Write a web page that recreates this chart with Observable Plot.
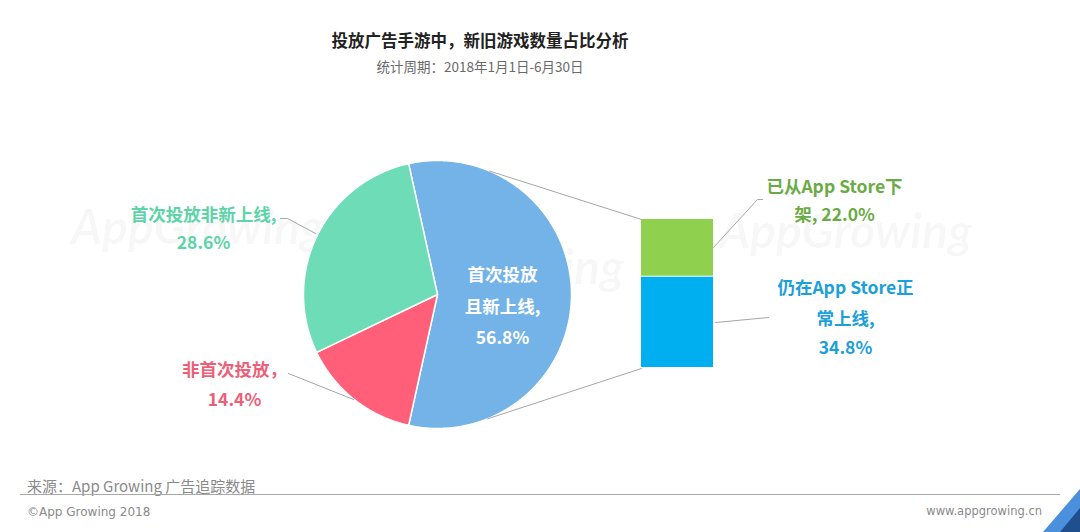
<!DOCTYPE html>
<html>
<head>
<meta charset="utf-8">
<script src="https://cdn.jsdelivr.net/npm/d3@7"></script>
<script src="https://cdn.jsdelivr.net/npm/@observablehq/plot@0.6"></script>
<style>
  html, body { margin: 0; padding: 0; background: #fff; }
  #wrap { position: relative; width: 1080px; height: 532px; overflow: hidden; font-family: "Noto Sans CJK SC", "Noto Sans", sans-serif; }
  .title { position: absolute; left: 0; top: 28px; width: 960px; text-align: center; font-size: 16.5px; font-weight: bold; color: #222; line-height: 24px; }
  .sub { position: absolute; left: 0; top: 56px; width: 960px; text-align: center; font-size: 13.5px; color: #6a6a6a; line-height: 20px; }
  #chart { position: absolute; left: 0; top: 88px; }
  .source { position: absolute; left: 27px; top: 475px; font-size: 15px; color: #8a8a8a; line-height: 22px; }
  .rule { position: absolute; left: 20px; top: 494px; width: 1040px; height: 0; border-top: 1.5px solid #a8a8a8; }
  .copy { position: absolute; left: 27px; top: 503px; font-size: 12px; color: #8a8a8a; line-height: 18px; font-family: "DejaVu Sans", sans-serif; }
  .site { position: absolute; right: 38px; top: 502px; font-size: 11.5px; color: #8a8a8a; line-height: 18px; font-family: "DejaVu Sans", sans-serif; }
  #corner { position: absolute; left: 0; top: 0; pointer-events: none; }
</style>
</head>
<body>
<div id="wrap">
  <div class="title">投放广告手游中，新旧游戏数量占比分析</div>
  <div class="sub">统计周期：2018年1月1日-6月30日</div>
  <div id="chart"></div>
  <div class="source">来源：App Growing 广告追踪数据</div>
  <div class="rule"></div>
  <div class="copy">©App Growing 2018</div>
  <div class="site">www.appgrowing.cn</div>
  <svg id="corner" width="1080" height="532">
    <polygon points="1043,532 1080,532 1080,489" fill="#4a90dc"></polygon>
    <polygon points="1060,532 1080,532 1080,508" fill="#1f4f8c"></polygon>
  </svg>
</div>
<script>
// ---------- data ----------
const pieCategories = ["首次投放且新上线", "非首次投放", "首次投放非新上线"];
const pieValues = [56.8, 14.4, 28.6];
const pieColors = ["#74b3e8", "#ff5f78", "#6ddcb7"];

const barCategories = ["已从App Store下架", "仍在App Store正常上线"];
const barValues = [22.0, 34.8];
const barColors = ["#8fd14f", "#00aff0"];

const pieLabelLines = [
  ["首次投放", "且新上线,", "56.8%"],
  ["非首次投放，", "14.4%"],
  ["首次投放非新上线,", "28.6%"]
];
const barLabelLines = [
  ["已从App Store下", "架, 22.0%"],
  ["仍在App Store正", "常上线,", "34.8%"]
];
const pieLabelColors = ["#ffffff", "#ec5f78", "#5cd4a7"];
const barLabelColors = ["#6bab45", "#1ba0d8"];

// ---------- layout (page pixels) ----------
const L = {
  cx: 437, cy: 294, r: 134,
  barX0: 641, barX1: 713, barTop: 219, barBottom: 368,
  pieLabelPos: [
    {x: 502, ys: [275, 307, 338]},
    {x: 234, ys: [370, 400]},
    {x: 203, ys: [215, 243]}
  ],
  barLabelPos: [
    {x: 834, ys: [187, 215]},
    {x: 845, ys: [288, 319, 348]}
  ],
  connectAngles: [67, -68],
  leaders: [
    [[315, 233], [287, 218], [280, 218]],
    [[353, 399], [288, 373]],
    [[713, 247], [757, 199], [762, 199]],
    [[715, 322], [768, 317]]
  ],
  watermarks: [
    {x: 197, y: 228}, {x: 497, y: 268}, {x: 845, y: 232}
  ]
};

// ---------- pie geometry from values ----------
const total = d3.sum(pieValues);
const blueSpan = pieValues[0] / total * 360;
let start = blueSpan / 2; // blue centred on 3 o'clock, going clockwise
const piePoints = [];
pieValues.forEach((v, i) => {
  const span = v / total * 360;
  const a0 = start, a1 = start - span;
  const pts = [{slice: i, x: L.cx, y: L.cy}];
  const n = Math.max(8, Math.ceil(span * 2));
  for (let k = 0; k <= n; k++) {
    const a = (a0 + (a1 - a0) * k / n) * Math.PI / 180;
    pts.push({slice: i, x: L.cx + L.r * Math.cos(a), y: L.cy - L.r * Math.sin(a)});
  }
  pts.push({slice: i, x: L.cx, y: L.cy});
  piePoints.push(pts);
  start = a1;
});

// ---------- bar geometry from values ----------
const barTotal = d3.sum(barValues);
const unit = (L.barBottom - L.barTop) / barTotal;
let acc = 0;
const barRows = barValues.map((v, i) => {
  const row = {cat: barCategories[i], x1: L.barX0, x2: L.barX1, y1: L.barTop + acc * unit, y2: L.barTop + (acc + v) * unit, color: barColors[i]};
  acc += v;
  return row;
});

// connector lines between pie and bar
const onCircle = (deg) => [L.cx + L.r * Math.cos(deg * Math.PI / 180), L.cy - L.r * Math.sin(deg * Math.PI / 180)];
const connectors = [
  [onCircle(L.connectAngles[0]), [L.barX0, barRows[0].y1]],
  [onCircle(L.connectAngles[1]), [L.barX0, barRows[barRows.length - 1].y2]]
];

const lineRows = [];
[...connectors, ...L.leaders].forEach((seg, gi) => seg.forEach(p => lineRows.push({g: gi, x: p[0], y: p[1]})));

const textRows = [];
pieLabelLines.forEach((lines, i) => lines.forEach((t, j) => textRows.push({text: t, x: L.pieLabelPos[i].x, y: L.pieLabelPos[i].ys[j], color: pieLabelColors[i]})));
barLabelLines.forEach((lines, i) => lines.forEach((t, j) => textRows.push({text: t, x: L.barLabelPos[i].x, y: L.barLabelPos[i].ys[j], color: barLabelColors[i]})));

const chart = Plot.plot({
  width: 1080,
  height: 382,
  margin: 0,
  x: {domain: [0, 1080], axis: null},
  y: {domain: [470, 88], axis: null},
  color: {type: "identity"},
  marks: [
    Plot.text(L.watermarks, {x: "x", y: "y", text: () => "AppGrowing", fontSize: 48, fontFamily: "Lato", fontWeight: "bold", fontStyle: "italic", fill: "#000", fillOpacity: 0.035}),
    ...piePoints.map((pts, i) => Plot.line(pts, {x: "x", y: "y", fill: pieColors[i], stroke: "#ffffff", strokeWidth: 1.5, strokeLinejoin: "round"})),
    Plot.rect(barRows, {x1: "x1", x2: "x2", y1: "y1", y2: "y2", fill: "color", insetBottom: 1}),
    Plot.line(lineRows, {x: "x", y: "y", z: "g", stroke: "#a6a6a6", strokeWidth: 1}),
    Plot.text(textRows, {x: "x", y: "y", text: "text", fill: "color", fontSize: 17.5, fontWeight: "bold", fontFamily: "Noto Sans CJK SC"})
  ]
});
document.getElementById("chart").appendChild(chart);
</script>
</body>
</html>
